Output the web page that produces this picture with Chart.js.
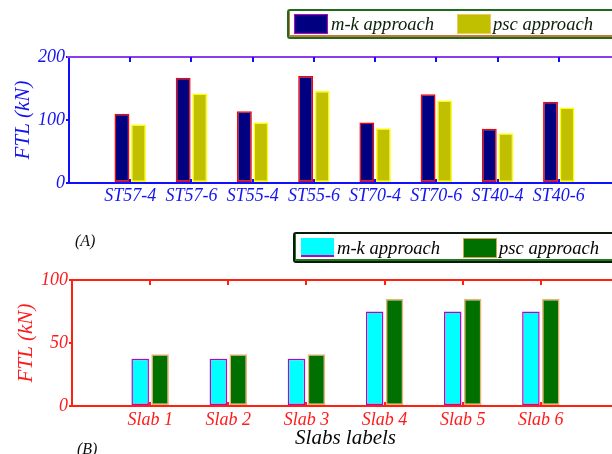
<!DOCTYPE html>
<html>
<head>
<meta charset="utf-8">
<script src="https://cdn.jsdelivr.net/npm/chart.js@4"></script>
<style>
  body {
    margin: 0;
    width: 612px;
    height: 454px;
    overflow: hidden;
    position: relative;
    background: #fff;
    font-family: "Liberation Serif", "DejaVu Serif", serif;
    font-style: italic;
  }
  canvas { position: absolute; left: 0; }
  .box { position: absolute; width: 340px; border-radius: 3px; z-index: 2; }
  .sw { position: absolute; width: 32px; height: 18px; z-index: 3; }
  .txt { position: absolute; font-size: 18.6px; line-height: 20px; color: #0c200c; z-index: 3; white-space: nowrap; }
  .tag { position: absolute; font-size: 16px; color: #101010; }
</style>
</head>
<body>
<canvas id="chartA" width="622" height="215" style="top:0"></canvas>
<canvas id="chartB" width="622" height="224" style="top:230px"></canvas>

<div class="box" style="left:287px;top:9px;height:26px;border:2px solid #1f6a1f;box-shadow:inset 0 -1px 0 1px #c87838;"></div>
<div class="sw" style="left:294px;top:14px;background:#000080;border:1px solid #c000c0;"></div>
<div class="txt" style="left:331px;top:14px;">m-k approach</div>
<div class="sw" style="left:457px;top:14px;background:#c0c000;border:1px solid #f0c860;"></div>
<div class="txt" style="left:493px;top:14px;">psc approach</div>

<div class="tag" style="left:75px;top:232px;">(A)</div>

<div class="box" style="left:293px;top:232px;height:27px;border:2px solid #0a1a0a;box-shadow:inset 0 -1px 0 1px #1f7a1f;"></div>
<div class="sw" style="left:301px;top:238px;background:#00ffff;border-bottom:2px solid #c000c0;height:17px;width:33px;"></div>
<div class="txt" style="left:337px;top:238px;color:#050505;">m-k approach</div>
<div class="sw" style="left:463px;top:238px;background:#007000;border:1px solid #d8a048;"></div>
<div class="txt" style="left:499px;top:238px;color:#050505;">psc approach</div>

<div class="tag" style="left:77px;top:440px;">(B)</div>

<script>
const steelLabels = ["ST57-4", "ST57-6", "ST55-4", "ST55-6", "ST70-4", "ST70-6", "ST40-4", "ST40-6"];
const steelMk = [110, 167, 114, 170, 96, 141, 86, 129];
const steelPsc = [93, 142, 96, 146, 87, 131, 79, 120];
const steelTicks = [0, 100, 200];

const slabLabels = ["Slab 1", "Slab 2", "Slab 3", "Slab 4", "Slab 5", "Slab 6"];
const slabMk = [37.5, 37.5, 37.5, 75, 75, 75];
const slabPsc = [41, 41, 41, 85, 85, 85];
const slabTicks = [0, 50, 100];

const serif = "'Liberation Serif', 'DejaVu Serif', serif";

// frame top line and the little inward tick marks on the category positions
const frameTicks = {
  id: "frameTicks",
  afterDatasetsDraw(chart, args, opts) {
    const { ctx, chartArea: a, scales } = chart;
    ctx.save();
    ctx.lineWidth = 2;
    ctx.strokeStyle = opts.topColor;
    ctx.beginPath();
    ctx.moveTo(a.left - 2, a.top);
    ctx.lineTo(a.right, a.top);
    ctx.stroke();
    ctx.strokeStyle = opts.tickColor;
    ctx.lineWidth = 2;
    for (let i = 1; i <= opts.count; i++) {
      const x = Math.round(scales.x.getPixelForValue(i));
      ctx.beginPath();
      ctx.moveTo(x, a.top);
      ctx.lineTo(x, a.top + 5);
      ctx.moveTo(x, a.bottom);
      ctx.lineTo(x, a.bottom - 4);
      ctx.stroke();
    }
    ctx.restore();
  },
};

function makeChart(id, cfg) {
  const pad = (arr) => [null, ...arr, null];
  return new Chart(document.getElementById(id), {
    type: "bar",
    data: {
      labels: ["", ...cfg.labels, ""],
      datasets: [
        {
          data: pad(cfg.mk),
          backgroundColor: cfg.mkFill,
          borderColor: cfg.mkBorder,
          borderWidth: 1.5,
          borderSkipped: false,
          categoryPercentage: cfg.catPct,
          barPercentage: cfg.barPct,
        },
        {
          data: pad(cfg.psc),
          backgroundColor: cfg.pscFill,
          borderColor: cfg.pscBorder,
          borderWidth: 1.5,
          borderSkipped: false,
          categoryPercentage: cfg.catPct,
          barPercentage: cfg.barPct,
        },
      ],
    },
    options: {
      responsive: false,
      animation: false,
      layout: { padding: { top: cfg.padTop, left: 0, right: 0, bottom: 0 } },
      plugins: {
        legend: { display: false },
        tooltip: { enabled: false },
        frameTicks: { topColor: cfg.topColor, tickColor: cfg.axisColor, count: cfg.labels.length },
      },
      scales: {
        x: {
          offset: false,
          z: 1,
          grid: { display: false, drawTicks: false },
          border: { display: true, color: cfg.axisColor, width: 2 },
          ticks: {
            color: cfg.textColor,
            padding: cfg.xPad,
            autoSkip: false,
            maxRotation: 0,
            font: { family: serif, style: "italic", size: 18 },
          },
          title: cfg.xTitle
            ? {
                display: true,
                text: cfg.xTitle,
                color: "#080808",
                padding: { top: 0, bottom: 3.4 },
                font: { family: serif, style: "italic", size: 21 },
              }
            : { display: false },
          afterFit: (s) => { s.height = cfg.xHeight; },
        },
        y: {
          min: cfg.yTicks[0],
          max: cfg.yTicks[cfg.yTicks.length - 1],
          z: 1,
          afterBuildTicks: (s) => { s.ticks = cfg.yTicks.map((v) => ({ value: v })); },
          grid: { drawOnChartArea: false, drawTicks: true, tickLength: 3, color: cfg.axisColor, lineWidth: 2 },
          border: { display: true, color: cfg.axisColor, width: 2 },
          ticks: {
            color: cfg.textColor,
            padding: 1,
            font: { family: serif, style: "italic", size: 18 },
          },
          title: {
            display: true,
            text: "FTL (kN)",
            color: cfg.textColor,
            padding: { top: cfg.yTitlePad, bottom: 0 },
            font: { family: serif, style: "italic", size: 21 },
          },
          afterFit: (s) => { s.width = cfg.yWidth; },
        },
      },
    },
    plugins: [frameTicks],
  });
}

makeChart("chartA", {
  labels: steelLabels,
  mk: steelMk,
  psc: steelPsc,
  yTicks: steelTicks,
  mkFill: "#000080",
  mkBorder: "#ff0000",
  pscFill: "#c0c000",
  pscBorder: "#ffff00",
  catPct: 0.54,
  barPct: 0.9,
  padTop: 57,
  xHeight: 32,
  yWidth: 69,
  xPad: 2,
  yTitlePad: 11,
  axisColor: "#1010ff",
  topColor: "#8a3cf0",
  textColor: "#1414f0",
});

makeChart("chartB", {
  labels: slabLabels,
  mk: slabMk,
  psc: slabPsc,
  yTicks: slabTicks,
  mkFill: "#00ffff",
  mkBorder: "#c000c0",
  pscFill: "#007000",
  pscBorder: "#f0b070",
  catPct: 0.51,
  barPct: 0.88,
  padTop: 50,
  xHeight: 48,
  yWidth: 72,
  xPad: 3,
  yTitlePad: 14,
  axisColor: "#ff2010",
  topColor: "#ff2010",
  textColor: "#ff1a1a",
  xTitle: "Slabs labels",
});
</script>
</body>
</html>
